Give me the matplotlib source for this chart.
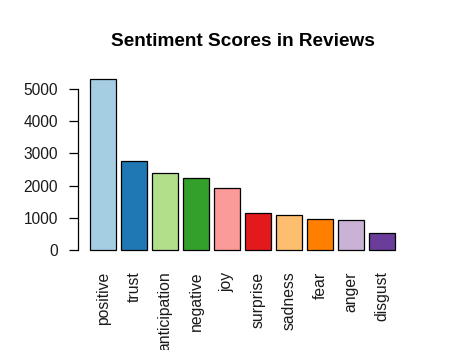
import matplotlib
matplotlib.use("Agg")
import matplotlib.pyplot as plt
import numpy as np

plt.rcParams['font.family'] = ['Liberation Sans', 'DejaVu Sans']

# sentiment counts, sorted descending
emotions = ['positive', 'trust', 'anticipation', 'negative', 'joy',
            'surprise', 'sadness', 'fear', 'anger', 'disgust']
scores = [5320, 2755, 2400, 2226, 1915, 1140, 1078, 953, 922, 519]
colors = ['#A6CEE3', '#1F78B4', '#B2DF8A', '#33A02C', '#FB9A99',
          '#E31A1C', '#FDBF6F', '#FF7F00', '#CAB2D6', '#6A3D9A']

fig = plt.figure(figsize=(4.5, 3.5), dpi=100)
ax = fig.add_axes([0.174, 0.266, 0.731, 0.529])

# base-R style barplot: width 1, space 0.2
x = 0.2 + np.arange(len(scores)) * 1.2
ax.bar(x, scores, width=1.0, align='edge', color=colors,
       edgecolor='black', linewidth=0.9)

span = x[-1] + 1.0 - x[0]
ax.set_xlim(x[0] - 0.04 * span, x[-1] + 1.0 + 0.04 * span)
ymax = max(scores)
ax.set_ylim(-0.04 * ymax, 1.04 * ymax)

ax.set_xticks(x + 0.5)
ax.set_xticklabels(emotions, rotation=90, fontsize=11.3, color='#1a1a1a')
ax.tick_params(axis='x', length=0, pad=10.5)

yt = [0, 1000, 2000, 3000, 4000, 5000]
ax.set_yticks(yt)
ax.set_yticklabels([str(v) for v in yt], fontsize=11.2, color='#1a1a1a')
ax.tick_params(axis='y', length=6.5, width=0.9, pad=8)

for s in ['top', 'right', 'bottom']:
    ax.spines[s].set_visible(False)
ax.spines['left'].set_bounds(0, 5000)
ax.spines['left'].set_linewidth(0.9)

fig.text(243 / 450, 1 - 42 / 350, 'Sentiment Scores in Reviews',
         ha='center', va='center', fontsize=13.7, fontweight='bold')

fig.savefig('out.png', dpi=100)
